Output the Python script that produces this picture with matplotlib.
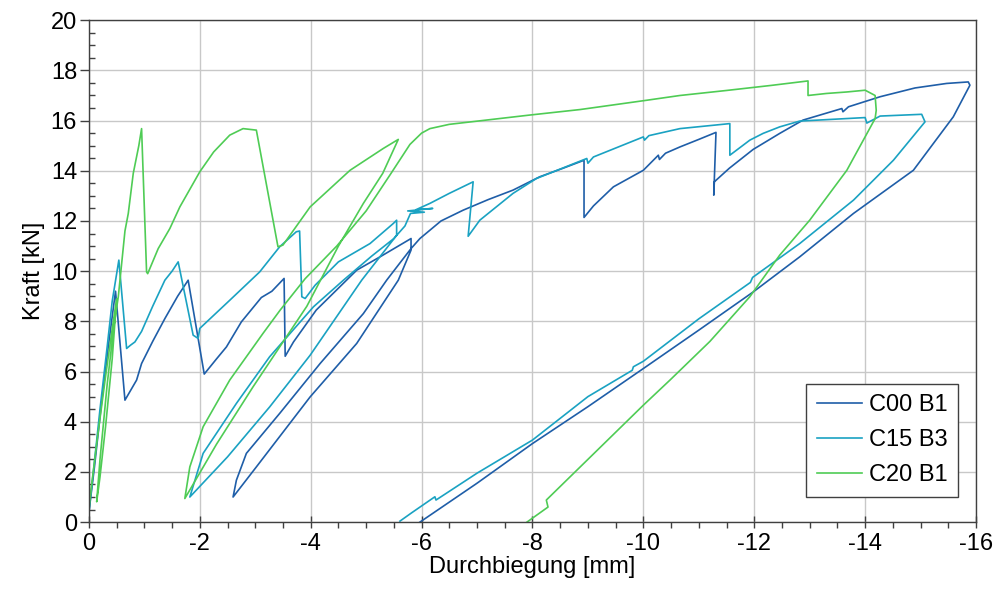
import matplotlib
matplotlib.use('Agg')
import matplotlib.pyplot as plt
from matplotlib.ticker import MultipleLocator

plt.rcParams['font.family'] = ['Liberation Sans', 'DejaVu Sans']
plt.rcParams['axes.unicode_minus'] = False

# C00 B1 (dark blue)
c00_x = [0, 0, 0, -0.1, -0.22, -0.35, -0.48, -0.65, -0.86, -0.95, -1.15, -1.37, -1.6, -1.79,
         -2.08, -2.3, -2.48, -2.75, -3.11, -3.3, -3.52, -3.54, -3.69, -4.1, -4.83, -5.25, -5.81,
         -5.81, -5.58, -4.83, -3.99, -3.02, -2.6,
         -2.66, -2.84, -3.44, -4.17, -4.95, -5.37, -5.6, -5.81, -5.97, -6.35, -6.75, -7.2, -7.65,
         -8.13, -8.55, -8.93, -8.93, -9.1, -9.46, -10.0, -10.27, -10.29, -10.4, -10.66, -11.0,
         -11.31, -11.27, -11.28, -11.55, -11.98, -12.46, -12.88, -13.58, -13.6, -13.7, -14.27,
         -14.9, -15.47, -15.86, -15.89,
         -15.59, -14.87, -13.79, -12.82, -11.98, -11.0, -10.0, -9.0, -8.0, -7.0, -5.97]
c00_y = [0.2, 5.9, 0.4, 2.2, 4.6, 7.0, 9.2, 4.86, 5.66, 6.32, 7.2, 8.11, 9.0, 9.64,
         5.9, 6.5, 6.98, 7.98, 8.95, 9.2, 9.71, 6.61, 7.18, 8.45, 10.04, 10.57, 11.3,
         10.84, 9.64, 7.12, 4.99, 2.2, 1.0,
         1.67, 2.74, 4.33, 6.32, 8.31, 9.64, 10.3, 10.9, 11.3, 12.0, 12.43, 12.85, 13.23,
         13.76, 14.1, 14.42, 12.14, 12.6, 13.36, 14.02, 14.62, 14.45, 14.7, 14.95, 15.25,
         15.53, 13.03, 13.56, 14.1, 14.85, 15.49, 16.02, 16.48, 16.35, 16.55, 16.95,
         17.3, 17.48, 17.54, 17.41,
         16.15, 14.02, 12.3, 10.57, 9.17, 7.65, 6.12, 4.6, 3.13, 1.55, 0.0]

# C15 B3 (teal)
c15_x = [0, -0.08, -0.2, -0.33, -0.42, -0.54, -0.68, -0.75, -0.83, -0.95, -1.15, -1.37, -1.5,
         -1.61, -1.88, -1.97, -2.0, -2.54, -3.08, -3.44, -3.74, -3.8, -3.84, -3.9, -4.08, -4.5,
         -5.07, -5.49, -5.55, -5.55,
         -4.92, -3.99, -3.26, -2.5, -1.82,
         -2.06, -2.66, -3.26, -4.05, -4.59, -5.1, -5.5, -5.7, -5.8, -6.05, -5.75, -6.2, -5.9,
         -6.15, -6.5, -6.93, -6.84, -7.05, -7.65, -8.07, -8.98, -9.0, -9.1, -10.0, -10.02,
         -10.1, -10.66, -11.56, -11.56, -11.92, -12.16, -12.46, -12.82, -14.0, -14.03, -14.27,
         -15.02, -15.08,
         -14.51, -13.79, -12.82, -11.97, -11.93, -11.0, -10.0, -9.82, -9.8, -9.0, -8.0, -7.0,
         -6.26, -6.24, -5.82, -5.61]
c15_y = [0.4, 2.0, 4.5, 7.0, 8.8, 10.44, 6.92, 7.05, 7.18, 7.6, 8.6, 9.64, 10.0,
         10.37, 7.45, 7.32, 7.72, 8.84, 9.97, 10.97, 11.57, 11.6, 8.98, 8.91, 9.44, 10.37,
         11.1, 11.9, 12.03, 11.43,
         9.64, 6.65, 4.59, 2.6, 1.0,
         2.74, 4.73, 6.59, 8.58, 9.64, 10.6, 11.3, 11.8, 12.3, 12.35, 12.4, 12.5, 12.45,
         12.7, 13.1, 13.56, 11.39, 12.03, 13.1, 13.69, 14.49, 14.3, 14.55, 15.35, 15.22,
         15.4, 15.68, 15.88, 14.62, 15.22, 15.49, 15.75, 15.98, 16.12, 15.9, 16.18,
         16.25, 15.95,
         14.42, 12.83, 11.1, 9.75, 9.55, 8.1, 6.41, 6.19, 6.05, 5.0, 3.27, 1.95,
         0.88, 1.01, 0.37, 0.04]

# C20 B1 (green)
c20_x = [0, -0.05, -0.15, -0.3, -0.42, -0.5, -0.42, -0.3, -0.2, -0.14,
         -0.2, -0.33, -0.45, -0.53, -0.65, -0.71, -0.8, -0.9, -0.95,
         -1.04, -1.06, -1.25, -1.46, -1.64, -2.0, -2.25, -2.54, -2.78, -3.02,
         -3.41, -3.5, -3.99, -4.71, -5.31, -5.58,
         -5.3, -4.95, -4.5, -3.93, -2.96, -2.3, -1.73,
         -1.82, -2.06, -2.54, -3.14, -3.45, -3.9, -4.47, -5.0, -5.45, -5.79, -6.0, -6.15,
         -6.5, -7.05, -7.95, -8.86, -10.06, -10.66, -11.5, -12.3, -12.97, -12.97, -13.3,
         -13.67, -14.0, -14.18, -14.2, -14.18,
         -13.67, -13.0, -12.46, -11.92, -11.2, -10.48, -10.0, -9.0, -8.25, -8.28, -7.9]
c20_y = [0.5, 1.5, 3.3, 5.8, 7.7, 8.9, 6.5, 3.8, 1.8, 0.81,
         2.5, 5.5, 7.8, 8.98, 11.6, 12.3, 13.9, 15.0, 15.68,
         9.97, 9.9, 10.9, 11.7, 12.56, 13.96, 14.75, 15.42, 15.68, 15.62,
         10.97, 11.04, 12.56, 14.02, 14.89, 15.25,
         13.9, 12.7, 11.0, 8.6, 5.39, 3.1, 0.94,
         2.2, 3.8, 5.66, 7.52, 8.45, 9.7, 11.0, 12.4, 13.9, 15.05, 15.5, 15.68,
         15.85, 15.99, 16.22, 16.44, 16.81, 17.0, 17.2, 17.4, 17.58, 17.0, 17.08,
         17.14, 17.21, 17.0, 16.41, 16.08,
         14.02, 12.03, 10.64, 8.98, 7.2, 5.66, 4.66, 2.5, 0.88, 0.6, 0.0]

series = [
    ('C00 B1', c00_x, c00_y, '#1f5ea8'),
    ('C15 B3', c15_x, c15_y, '#1aa2c2'),
    ('C20 B1', c20_x, c20_y, '#4fcc55'),
]

fs = 17

fig = plt.figure(figsize=(9.99, 5.94), dpi=100)
ax = fig.add_axes([0.089, 0.121, 0.888, 0.845])

for name, xs, ys, col in series:
    ax.plot(xs, ys, color=col, lw=1.2, label=name)

ax.set_xlim(0, -16)
ax.set_ylim(0, 20)
ax.xaxis.set_major_locator(MultipleLocator(2))
ax.xaxis.set_minor_locator(MultipleLocator(0.5))
ax.yaxis.set_major_locator(MultipleLocator(2))
ax.yaxis.set_minor_locator(MultipleLocator(0.5))
ax.grid(True, which='major', color='#c8c8c8', lw=1.0)
ax.set_axisbelow(True)

for sp in ax.spines.values():
    sp.set_color('#404040')
    sp.set_linewidth(1.0)

ax.tick_params(axis='y', which='major', direction='out', length=6.5, width=1, color='#404040',
               labelsize=fs, pad=2)
ax.tick_params(axis='y', which='minor', direction='in', length=4.5, width=1, color='#404040')
ax.tick_params(axis='x', which='major', direction='inout', length=9, width=1, color='#404040',
               labelsize=fs, pad=3)
ax.tick_params(axis='x', which='minor', direction='out', length=4.5, width=1, color='#404040')

ax.set_xlabel('Durchbiegung [mm]', fontsize=fs, labelpad=1)
ax.set_ylabel('Kraft [kN]', fontsize=fs, labelpad=4)

leg = ax.legend(loc='lower right', bbox_to_anchor=(0.98, 0.05), fontsize=fs,
                frameon=True, fancybox=False, edgecolor='#404040', framealpha=1,
                borderaxespad=0, handlelength=1.9, handletextpad=0.3,
                labelspacing=0.55, borderpad=0.45)
leg.get_frame().set_linewidth(1.0)

fig.savefig('out.png', dpi=100)
